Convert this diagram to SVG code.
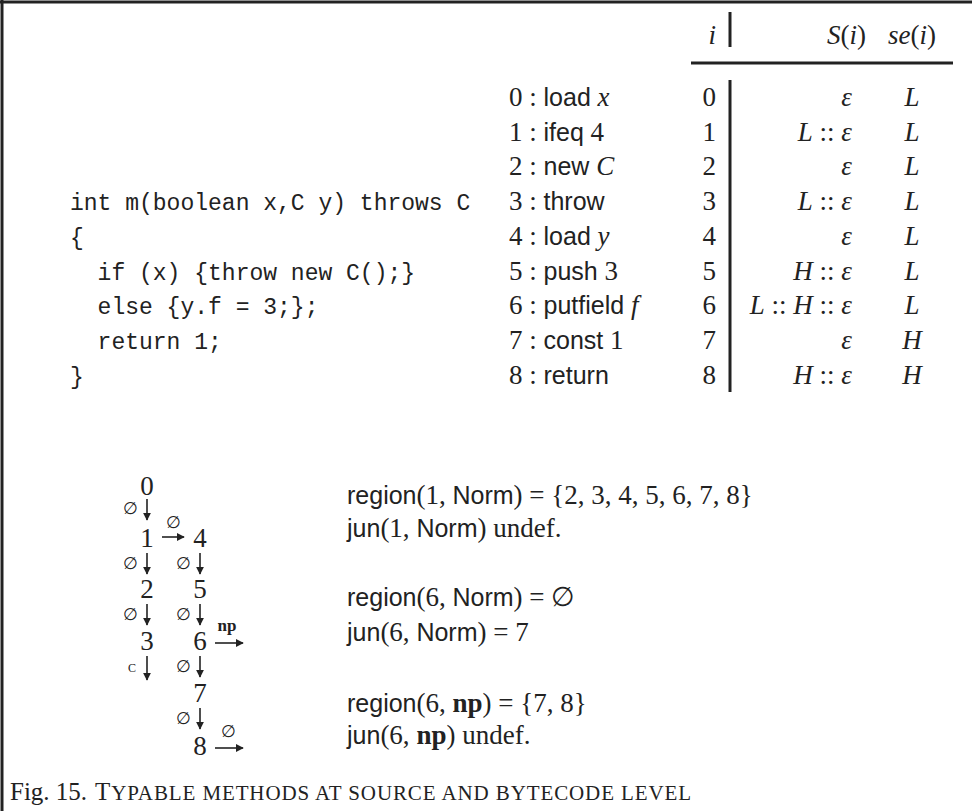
<svg xmlns="http://www.w3.org/2000/svg" width="972" height="811" viewBox="0 0 972 811">
<defs>
<marker id="ah" viewBox="0 0 10 10" refX="9" refY="5" markerWidth="8" markerHeight="8" markerUnits="userSpaceOnUse" orient="auto">
<path d="M0,0 L10,5 L0,10 z" fill="#222"/>
</marker>
<style>
.m{font-family:"Liberation Serif","DejaVu Serif",serif;font-size:27px;fill:#222}
.it{font-style:italic}
.sf{font-family:"Liberation Sans","DejaVu Sans",sans-serif;font-size:25px}
.tt{font-family:"Liberation Mono","DejaVu Sans Mono",monospace;font-size:23px;fill:#222}
.sm{font-family:"Liberation Serif","DejaVu Serif",serif;font-size:17px;fill:#222}
.bf{font-weight:bold}
.r{text-anchor:end}
.c{text-anchor:middle}
.rule{stroke:#222;stroke-width:3}
.arr{stroke:#222;stroke-width:1.6;fill:none;marker-end:url(#ah)}
.cap{font-family:"Liberation Serif","DejaVu Serif",serif;font-size:25px;fill:#222}
</style>
</defs>
<rect width="972" height="811" fill="#fff"/>
<g id="frame">
<line class="rule" x1="0" y1="2" x2="972" y2="2" stroke-width="4"/>
<line class="rule" x1="2" y1="0" x2="2" y2="811" stroke-width="4"/>
</g>
<g id="source-code" class="tt">
<text x="70" y="210">int m(boolean x,C y) throws C</text>
<text x="70" y="245">{</text>
<text x="70" y="280" xml:space="preserve">  if (x) {throw new C();}</text>
<text x="70" y="314" xml:space="preserve">  else {y.f = 3;};</text>
<text x="70" y="349" xml:space="preserve">  return 1;</text>
<text x="70" y="384">}</text>
</g>
<g id="bytecode" class="m">
<text x="509" y="106">0 : <tspan class="sf">load</tspan> <tspan class="it">x</tspan></text>
<text x="509" y="141">1 : <tspan class="sf">ifeq</tspan> 4</text>
<text x="509" y="175">2 : <tspan class="sf">new</tspan> <tspan class="it">C</tspan></text>
<text x="509" y="210">3 : <tspan class="sf">throw</tspan></text>
<text x="509" y="245">4 : <tspan class="sf">load</tspan> <tspan class="it">y</tspan></text>
<text x="509" y="280">5 : <tspan class="sf">push</tspan> 3</text>
<text x="509" y="314">6 : <tspan class="sf">putfield</tspan> <tspan class="it">f</tspan></text>
<text x="509" y="349">7 : <tspan class="sf">const</tspan> 1</text>
<text x="509" y="384">8 : <tspan class="sf">return</tspan></text>
</g>
<g id="typing-table" class="m">
<text class="it r" x="716" y="44">i</text>
<text class="r" x="866" y="44"><tspan class="it">S</tspan>(<tspan class="it">i</tspan>)</text>
<text class="r" x="936" y="44"><tspan class="it">se</tspan>(<tspan class="it">i</tspan>)</text>
<line class="rule" x1="730" y1="12" x2="730" y2="47"/>
<line class="rule" x1="691" y1="63" x2="953" y2="63"/>
<line class="rule" x1="730" y1="80" x2="730" y2="392"/>
<g class="r">
<text x="716" y="106">0</text><text x="716" y="141">1</text><text x="716" y="175">2</text>
<text x="716" y="210">3</text><text x="716" y="245">4</text><text x="716" y="280">5</text>
<text x="716" y="314">6</text><text x="716" y="349">7</text><text x="716" y="384">8</text>
</g>
<g class="r">
<text x="852" y="106" class="it">ε</text>
<text x="852" y="141"><tspan class="it">L</tspan> :: <tspan class="it">ε</tspan></text>
<text x="852" y="175" class="it">ε</text>
<text x="852" y="210"><tspan class="it">L</tspan> :: <tspan class="it">ε</tspan></text>
<text x="852" y="245" class="it">ε</text>
<text x="852" y="280"><tspan class="it">H</tspan> :: <tspan class="it">ε</tspan></text>
<text x="852" y="314"><tspan class="it">L</tspan> :: <tspan class="it">H</tspan> :: <tspan class="it">ε</tspan></text>
<text x="852" y="349" class="it">ε</text>
<text x="852" y="384"><tspan class="it">H</tspan> :: <tspan class="it">ε</tspan></text>
</g>
<g class="c it">
<text x="912" y="106">L</text><text x="912" y="141">L</text><text x="912" y="175">L</text>
<text x="912" y="210">L</text><text x="912" y="245">L</text><text x="912" y="280">L</text>
<text x="912" y="314">L</text><text x="912" y="349">H</text><text x="912" y="384">H</text>
</g>
</g>
<g id="n0" class="m c"><text x="147" y="495">0</text></g>
<g id="n1" class="m c"><text x="147" y="547">1</text></g>
<g id="n4" class="m c"><text x="200" y="547">4</text></g>
<g id="n2" class="m c"><text x="147" y="598">2</text></g>
<g id="n5" class="m c"><text x="200" y="598">5</text></g>
<g id="n3" class="m c"><text x="147" y="650">3</text></g>
<g id="n6" class="m c"><text x="200" y="650">6</text></g>
<g id="n7" class="m c"><text x="200" y="702">7</text></g>
<g id="n8" class="m c"><text x="200" y="755">8</text></g>
<g id="connectors">
<line class="arr" x1="147" y1="499" x2="147" y2="520"/>
<text class="sm c" x="130" y="514">∅</text>
<line class="arr" x1="162" y1="537" x2="184" y2="537"/>
<text class="sm c" x="173" y="528">∅</text>
<line class="arr" x1="147" y1="553" x2="147" y2="574"/>
<text class="sm c" x="130" y="569">∅</text>
<line class="arr" x1="200" y1="553" x2="200" y2="574"/>
<text class="sm c" x="183" y="569">∅</text>
<line class="arr" x1="147" y1="604" x2="147" y2="625"/>
<text class="sm c" x="130" y="620">∅</text>
<line class="arr" x1="200" y1="604" x2="200" y2="625"/>
<text class="sm c" x="183" y="620">∅</text>
<line class="arr" x1="215" y1="643" x2="243" y2="643"/>
<text class="sm c bf" x="227" y="631">np</text>
<line class="arr" x1="147" y1="656" x2="147" y2="680"/>
<text class="sm c" x="132" y="672" style="font-variant:small-caps">c</text>
<line class="arr" x1="200" y1="656" x2="200" y2="677"/>
<text class="sm c" x="183" y="672">∅</text>
<line class="arr" x1="200" y1="708" x2="200" y2="729"/>
<text class="sm c" x="183" y="724">∅</text>
<line class="arr" x1="215" y1="748" x2="243" y2="748"/>
<text class="sm c" x="228" y="737">∅</text>
</g>
<g id="regions" class="m">
<text x="347" y="504"><tspan class="sf">region</tspan>(1, <tspan class="sf">Norm</tspan>) = {2, 3, 4, 5, 6, 7, 8}</text>
<text x="347" y="537"><tspan class="sf">jun</tspan>(1, <tspan class="sf">Norm</tspan>) undef.</text>
<text x="347" y="606"><tspan class="sf">region</tspan>(6, <tspan class="sf">Norm</tspan>) = ∅</text>
<text x="347" y="641"><tspan class="sf">jun</tspan>(6, <tspan class="sf">Norm</tspan>) = 7</text>
<text x="347" y="712"><tspan class="sf">region</tspan>(6, <tspan class="bf">np</tspan>) = {7, 8}</text>
<text x="347" y="744"><tspan class="sf">jun</tspan>(6, <tspan class="bf">np</tspan>) undef.</text>
</g>
<g id="caption" class="cap">
<text x="10" y="800">Fig. 15.</text>
<text x="95" y="800" textLength="596" lengthAdjust="spacing">T<tspan style="font-size:21px">YPABLE METHODS AT SOURCE AND BYTECODE LEVEL</tspan></text>
</g>
</svg>
